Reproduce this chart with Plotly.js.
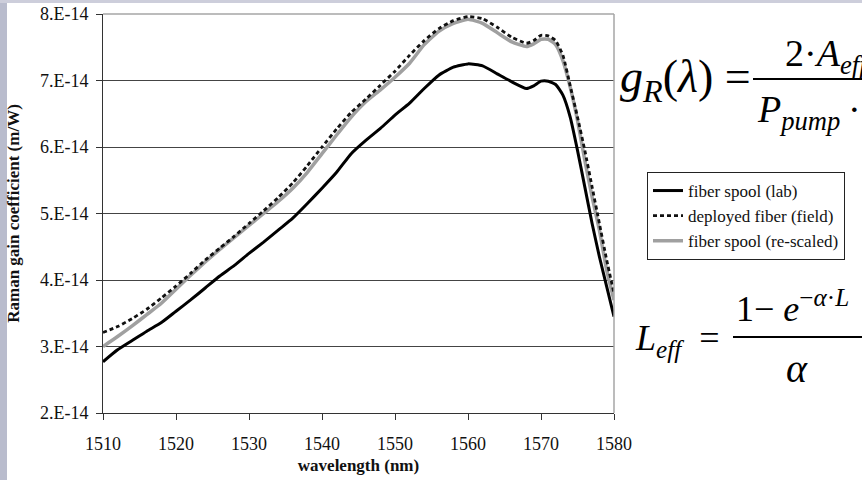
<!DOCTYPE html>
<html>
<head>
<meta charset="utf-8">
<script src="https://cdn.plot.ly/plotly-3.0.1.min.js"></script>
<style>html,body{margin:0;padding:0;background:#fff;}#chart{width:862px;height:480px;}</style>
</head>
<body>
<div id="chart"></div>
<script>
// ---- data ----
const wavelength = [1510,1512,1514,1516,1518,1520,1522,1524,1526,1528,1530,1532,1534,1536,1538,1540,1542,1544,1546,1548,1550,1552,1554,1556,1558,1560,1562,1564,1566,1568,1569,1570,1571,1572,1573,1574,1575,1576,1577,1578,1579,1580];
const gainLab = [2.77e-14,2.95e-14,3.09e-14,3.23e-14,3.36e-14,3.53e-14,3.70e-14,3.88e-14,4.06e-14,4.22e-14,4.40e-14,4.57e-14,4.75e-14,4.93e-14,5.15e-14,5.38e-14,5.62e-14,5.90e-14,6.10e-14,6.28e-14,6.48e-14,6.66e-14,6.88e-14,7.08e-14,7.20e-14,7.25e-14,7.22e-14,7.10e-14,6.98e-14,6.88e-14,6.92e-14,6.99e-14,6.99e-14,6.94e-14,6.78e-14,6.45e-14,5.95e-14,5.40e-14,4.85e-14,4.35e-14,3.90e-14,3.45e-14];
const gainField = [3.21e-14,3.30e-14,3.42e-14,3.56e-14,3.73e-14,3.91e-14,4.10e-14,4.30e-14,4.48e-14,4.66e-14,4.85e-14,5.04e-14,5.24e-14,5.46e-14,5.72e-14,6.00e-14,6.27e-14,6.52e-14,6.72e-14,6.93e-14,7.14e-14,7.38e-14,7.60e-14,7.78e-14,7.90e-14,7.96e-14,7.93e-14,7.80e-14,7.65e-14,7.56e-14,7.60e-14,7.68e-14,7.67e-14,7.60e-14,7.38e-14,6.92e-14,6.45e-14,5.95e-14,5.40e-14,4.85e-14,4.30e-14,3.80e-14];
const gainRescaled = [3.00e-14,3.15e-14,3.31e-14,3.48e-14,3.65e-14,3.86e-14,4.07e-14,4.27e-14,4.46e-14,4.64e-14,4.82e-14,5.00e-14,5.18e-14,5.38e-14,5.62e-14,5.90e-14,6.18e-14,6.45e-14,6.68e-14,6.86e-14,7.05e-14,7.26e-14,7.54e-14,7.74e-14,7.86e-14,7.92e-14,7.86e-14,7.72e-14,7.58e-14,7.51e-14,7.55e-14,7.62e-14,7.62e-14,7.54e-14,7.30e-14,6.90e-14,6.40e-14,5.80e-14,5.25e-14,4.75e-14,4.15e-14,3.70e-14];
const seriesNames = ['fiber spool (lab)','deployed fiber (field)','fiber spool (re-scaled)'];
const yTickVals = [2e-14,3e-14,4e-14,5e-14,6e-14,7e-14,8e-14];
const yTickText = ['2.E-14','3.E-14','4.E-14','5.E-14','6.E-14','7.E-14','8.E-14'];
const xTickVals = [1510,1520,1530,1540,1550,1560,1570,1580];

// ---- layout helpers (pixel -> paper) ----
const L = 103, R = 614, T = 14, B = 413;
const px = v => (v - L) / (R - L);
const py = v => (B - v) / (B - T);
const serif = 'Liberation Serif, Times New Roman, serif';
const NB = '\u00a0';
const TS = '\u2009';

const traces = [
  {x: wavelength, y: gainRescaled, name: seriesNames[2], type: 'scatter', mode: 'lines',
   line: {color: '#a0a0a0', width: 3.5, shape: 'spline', smoothing: 0.5}, legendrank: 3},
  {x: wavelength, y: gainField, name: seriesNames[1], type: 'scatter', mode: 'lines',
   line: {color: '#111', width: 2.8, dash: '4px,3px', shape: 'spline', smoothing: 0.5}, legendrank: 2},
  {x: wavelength, y: gainLab, name: seriesNames[0], type: 'scatter', mode: 'lines',
   line: {color: '#000', width: 3, shape: 'spline', smoothing: 0.5}, legendrank: 1}
];

const formulaFont = {family: serif, size: 38, color: '#000'};
const layout = {
  width: 862, height: 480,
  margin: {l: L, r: 862 - R, t: T, b: 480 - B, pad: 0, autoexpand: false},
  paper_bgcolor: '#fff', plot_bgcolor: '#fff',
  font: {family: serif, color: '#111'},
  showlegend: true,
  legend: {x: px(647), y: py(172), xanchor: 'left', yanchor: 'top',
           bgcolor: '#fff', bordercolor: '#222', borderwidth: 1,
           font: {family: serif, size: 17, color: '#111'}, tracegroupgap: 0},
  xaxis: {range: [1510, 1580], tickvals: xTickVals, showgrid: false, zeroline: false,
          showline: true, linecolor: '#333', linewidth: 1,
          ticks: 'outside', ticklen: 6, tickcolor: '#333',
          tickfont: {family: serif, size: 18, color: '#111'}, ticklabelstandoff: 8,
          title: {text: '<b>wavelength (nm)</b>', font: {family: serif, size: 17, color: '#111'}, standoff: 6}},
  yaxis: {range: [2e-14, 8e-14], tickvals: yTickVals, ticktext: yTickText,
          showgrid: true, gridcolor: '#444', gridwidth: 1, zeroline: false,
          showline: true, linecolor: '#333', linewidth: 1,
          ticks: 'outside', ticklen: 6, tickcolor: '#333',
          tickfont: {family: serif, size: 18, color: '#111'}, ticklabelstandoff: 4,
          title: {text: '<b>Raman gain coefficient (m/W)</b>', font: {family: serif, size: 17, color: '#111'}, standoff: 15}},
  shapes: [
    {type: 'rect', xref: 'paper', yref: 'paper', x0: px(-5), x1: px(7), y0: py(-5), y1: py(485),
     fillcolor: '#b9bccd', line: {width: 0}, layer: 'below'},
    {type: 'rect', xref: 'paper', yref: 'paper', x0: px(-5), x1: px(870), y0: py(-5), y1: py(3),
     fillcolor: '#cdcedb', line: {width: 0}, layer: 'below'},
    {type: 'line', xref: 'paper', yref: 'paper', x0: 0, x1: 1, y0: 1, y1: 1,
     line: {color: '#a6a6a6', width: 1.5}, layer: 'above'},
    {type: 'line', xref: 'paper', yref: 'paper', x0: 1, x1: 1, y0: 0, y1: 1,
     line: {color: '#a6a6a6', width: 1.5}, layer: 'above'},
    {type: 'line', xref: 'paper', yref: 'paper', x0: px(753), x1: px(880), y0: py(79), y1: py(79),
     line: {color: '#000', width: 2}},
    {type: 'line', xref: 'paper', yref: 'paper', x0: px(733), x1: px(880), y0: py(337), y1: py(337),
     line: {color: '#000', width: 2}}
  ],
  annotations: [
    {xref: 'paper', yref: 'paper', x: px(618), y: py(80), xanchor: 'left', yanchor: 'middle', showarrow: false,
     text: '<i>g</i><sub><i>R</i></sub>(<i>λ</i>)' + NB + '=', font: {family: serif, size: 46, color: '#000'}},
    {xref: 'paper', yref: 'paper', x: px(783), y: py(56), xanchor: 'left', yanchor: 'middle', showarrow: false,
     text: '2·<i>A</i><sub><i>eff</i></sub>', font: formulaFont},
    {xref: 'paper', yref: 'paper', x: px(755), y: py(112), xanchor: 'left', yanchor: 'middle', showarrow: false,
     text: '<i>P</i><sub><i>pump</i></sub>' + TS + '·' + TS + '<i>L</i><sub><i>eff</i></sub>', font: formulaFont},
    {xref: 'paper', yref: 'paper', x: px(633), y: py(340), xanchor: 'left', yanchor: 'middle', showarrow: false,
     text: '<i>L</i><sub><i>eff</i></sub>' + NB + NB + '=', font: {family: serif, size: 36, color: '#000'}},
    {xref: 'paper', yref: 'paper', x: px(734), y: py(306), xanchor: 'left', yanchor: 'middle', showarrow: false,
     text: '1−' + NB + '<i>e</i><sup>−<i>α</i>·<i>L</i></sup>', font: {family: serif, size: 36, color: '#000'}},
    {xref: 'paper', yref: 'paper', x: px(797), y: py(368), xanchor: 'center', yanchor: 'middle', showarrow: false,
     text: '<i>α</i>', font: {family: serif, size: 40, color: '#000'}}
  ]
};

Plotly.newPlot('chart', traces, layout, {displayModeBar: false, staticPlot: true});
</script>
</body>
</html>
